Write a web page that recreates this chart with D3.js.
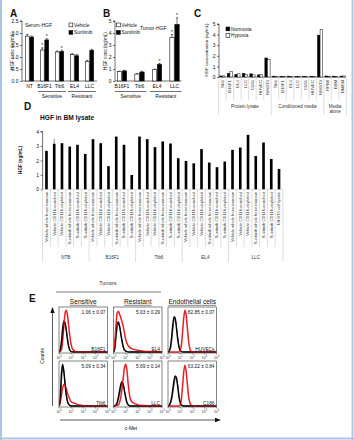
<!DOCTYPE html>
<html><head><meta charset="utf-8">
<script src="https://cdn.jsdelivr.net/npm/d3@7"></script>
<style>body{margin:0;background:#fff}svg,svg text{font-family:"Liberation Sans",Arial,Helvetica,sans-serif}svg{display:block}</style>
</head><body><svg id="c" width="354" height="440" font-family="Liberation Sans, Arial, sans-serif"></svg>
<script>
// ---------- DATA ----------
// Panel A (serum HGF, ng/mL)
const aGroups = ["NT","B16F1","Tib6","EL4","LLC"];
const aVehicle = [1.87,1.29,1.21,1.10,0.82];
const aSunitinib = [1.83,1.71,1.23,1.05,1.28];
const aVehErr = [0.07,0.09,0.04,0.04,0.04];
const aSunErr = [0.04,0.05,0.05,0.05,0.04];
const aTicks = [0,0.5,1.0,1.5,2.0,2.5];
// Panel B (tumor HGF, ng/mL)
const bGroups = ["B16F1","Tib6","EL4","LLC"];
const bVehicle = [0.78,0.58,0.94,3.62];
const bSunitinib = [0.84,0.75,1.39,4.72];
const bVehErr = [0.04,0.04,0.05,0.25];
const bSunErr = [0.05,0.06,0.08,0.55];
const bTicks = [0,1,2,3,4,5];
// Panel C (HGF concentration, ng/mL)
const cCells = ["Tib6","B16F1","EL4","LLC","C166","HUVEC","NIH3T3"];
const cMedia = ["RPMI","EBM","DMEM"];
const cGroups = ["Protein lysate","Conditioned media","Media alone"];
const cNormoxia = [0.10,0.35,0.25,0.35,0.30,0.20,1.80, 0.08,0.06,0.08,0.06,0.05,0.05,3.95, 0.10,0.08,0.08];
const cHypoxia  = [0.10,0.50,0.30,0.25,0.20,0.25,1.65, 0.05,0.05,0.06,0.05,0.04,0.06,4.50, 0.06,0.06,0.10];
const cTicks = [0,1,2,3,4,5];
// Panel D (HGF in BM lysate, ng/mL)
const dTumors = ["NTB","B16F1","Tib6","EL4","LLC"];
const dFractions = ["Vehicle whole bone marrow","Vehicle CD11b-enriched","Vehicle CD11b-depleted","Sunitinib whole bone marrow","Sunitinib CD11b-enriched","Sunitinib CD11b-depleted"];
const dControl = "NIH3T3 cell lysate";
const dValues = [2.66,3.15,3.19,2.96,3.08,2.45, 3.47,3.19,1.60,3.65,3.08,0.99, 3.65,3.47,2.92,3.31,3.17,2.15, 1.96,1.80,2.78,1.85,1.53,1.92, 2.73,2.89,3.77,2.31,3.24,2.10, 1.41];
const dTicks = [0,1,2,3,4];
// Panel E (flow cytometry histograms: [log10 c-Met, % of max counts])
const eCells = [["B16F1","EL4","HUVECs"],["Tib6","LLC","C166"]];
const eStats = [["1.06 ± 0.07","5.03 ± 0.29","82.85 ± 0.07"],["5.09 ± 0.34","5.69 ± 0.14","63.22 ± 0.84"]];
const eHeaders = ["Sensitive","Resistant","Endothelial cells"];
const eDecades = [0,1,2,3,4];
const b16Iso = [[0,0],[0.1,5],[0.2,25],[0.3,55],[0.4,72],[0.5,68],[0.6,50],[0.7,28],[0.8,12],[0.9,4],[1.0,1],[1.2,0],[4,0]];
const b16Met = [[0,0],[0.2,5],[0.3,25],[0.4,60],[0.5,90],[0.6,97],[0.7,85],[0.8,60],[0.9,35],[1.0,18],[1.1,8],[1.3,2],[1.6,0],[4,0]];
const el4Iso = [[0,0],[0.1,10],[0.2,40],[0.3,65],[0.4,70],[0.5,60],[0.6,42],[0.7,25],[0.8,12],[0.9,5],[1.1,1],[1.3,0],[4,0]];
const el4Met = [[0,0],[0.1,20],[0.2,60],[0.3,90],[0.4,95],[0.5,88],[0.6,80],[0.7,70],[0.8,60],[0.9,45],[1.0,30],[1.2,15],[1.5,8],[2.0,4],[2.5,2],[3.0,1],[3.5,0],[4,0]];
const huvIso = [[0,0],[0.1,3],[0.2,12],[0.3,35],[0.4,65],[0.5,82],[0.6,78],[0.7,55],[0.8,30],[0.9,12],[1.0,4],[1.2,0],[4,0]];
const huvMet = [[0,0],[0.9,0],[1.0,3],[1.1,15],[1.2,45],[1.3,80],[1.4,97],[1.5,85],[1.6,55],[1.7,25],[1.8,8],[1.9,2],[2.1,0],[4,0]];
const tibIso = [[0,0],[0.1,20],[0.2,75],[0.3,97],[0.4,80],[0.5,50],[0.6,25],[0.7,10],[0.8,4],[1.0,0],[4,0]];
const tibMet = [[0,0],[0.1,8],[0.2,25],[0.3,42],[0.4,50],[0.5,48],[0.6,40],[0.7,30],[0.8,22],[0.9,15],[1.0,10],[1.3,6],[1.6,3],[2.0,1],[2.3,0],[4,0]];
const llcIso = [[0,0],[0.2,2],[0.3,8],[0.4,20],[0.5,35],[0.6,50],[0.7,57],[0.8,50],[0.9,35],[1.0,20],[1.1,8],[1.2,3],[1.4,0],[4,0]];
const llcMet = [[0,0],[0.4,2],[0.5,8],[0.6,20],[0.7,40],[0.8,65],[0.9,88],[1.0,97],[1.1,85],[1.2,55],[1.3,30],[1.4,15],[1.6,8],[2.0,3],[2.5,1],[3,0],[4,0]];
const c166Iso = [[0,0],[0.1,2],[0.2,8],[0.3,20],[0.4,40],[0.5,60],[0.6,70],[0.7,65],[0.8,45],[0.9,22],[1.0,8],[1.1,2],[1.3,0],[4,0]];
const c166Met = [[0,0],[0.9,0],[1.0,3],[1.1,15],[1.2,45],[1.3,80],[1.4,95],[1.5,80],[1.6,50],[1.7,22],[1.8,8],[1.9,2],[2.1,0],[4,0]];
const eIso = [[b16Iso,el4Iso,huvIso],[tibIso,llcIso,c166Iso]];
const eMet = [[b16Met,el4Met,huvMet],[tibMet,llcMet,c166Met]];

// ---------- DRAW ----------
const FF = "Liberation Sans, Arial, sans-serif";
const svg = d3.select("#c");
const FONT = 5;
function txt(g,x,y,s,o={}){
  const t=g.append("text").attr("x",x).attr("y",y).text(s)
    .attr("font-family",FF)
    .attr("font-size",o.size||FONT).attr("fill",o.fill||"#111")
    .attr("text-anchor",o.anchor||"start");
  if(o.bold) t.attr("font-weight","bold");
  if(o.rot!==undefined) t.attr("transform",`rotate(${o.rot},${x},${y})`);
  return t;
}
function yAxis(g,y,x,ticks,fmt){
  const ax=g.append("g").attr("transform",`translate(${x},0)`)
    .call(d3.axisLeft(y).tickValues(ticks).tickSize(2).tickPadding(1.5).tickFormat(fmt));
  ax.attr("font-family",FF);
  ax.selectAll("text").attr("font-size",FONT).attr("fill","#111");
  ax.selectAll("line,path").attr("stroke","#111").attr("stroke-width",0.6);
  ax.select("path").attr("d",`M-2,${y.range()[1]}H0V${y.range()[0]}`);
  return ax;
}

// Panel letters
txt(svg,10,17,"A",{size:10,bold:true});
txt(svg,103,17,"B",{size:10,bold:true});
txt(svg,194,17,"C",{size:10,bold:true});
txt(svg,24,110,"D",{size:10,bold:true});
txt(svg,29,302,"E",{size:10,bold:true});

// ----- A & B grouped bars -----
function grouped(cfg){
  const g=svg.append("g");
  const x=d3.scaleBand().domain(cfg.groups).range(cfg.xr).paddingInner(cfg.pi).paddingOuter(cfg.po);
  const sub=d3.scaleBand().domain(["v","s"]).range([0,x.bandwidth()]);
  const y=d3.scaleLinear().domain(cfg.dom).range([81,21]);
  yAxis(g,y,cfg.xr[0],cfg.ticks,cfg.fmt);
  g.append("line").attr("x1",cfg.xr[0]).attr("x2",cfg.xr[1]).attr("y1",81).attr("y2",81).attr("stroke","#111").attr("stroke-width",0.6);
  cfg.groups.forEach((k,i)=>{
    [["v",cfg.veh[i],cfg.vErr[i],"#fff"],["s",cfg.sun[i],cfg.sErr[i],"#000"]].forEach(([s,v,e,f])=>{
      const bx=x(k)+sub(s), w=sub.bandwidth();
      g.append("line").attr("x1",bx+w/2).attr("x2",bx+w/2).attr("y1",y(v)).attr("y2",y(v+e)).attr("stroke","#111").attr("stroke-width",0.6);
      g.append("line").attr("x1",bx+w/2-1.2).attr("x2",bx+w/2+1.2).attr("y1",y(v+e)).attr("y2",y(v+e)).attr("stroke","#111").attr("stroke-width",0.6);
      g.append("rect").attr("x",bx+0.3).attr("y",y(v)).attr("width",w-0.6).attr("height",y(0)-y(v)).attr("fill",f).attr("stroke","#111").attr("stroke-width",0.6);
    });
    txt(g,x(k)+x.bandwidth()/2,88,k,{anchor:"middle"});
  });
  (cfg.stars||[]).forEach(([k,s,v])=>{
    txt(g,x(k)+sub(s)+sub.bandwidth()/2,y(v)-0.5,"*",{anchor:"middle",size:5});
  });
  cfg.sets.forEach(([a,b,lab])=>{
    const x1=x(a)-2, x2=x(b)+x.bandwidth()+2;
    g.append("line").attr("x1",x1).attr("x2",x2).attr("y1",91.5).attr("y2",91.5).attr("stroke","#111").attr("stroke-width",0.6);
    txt(g,(x1+x2)/2,98,lab,{anchor:"middle"});
  });
  txt(g,cfg.ylx,51,"HGF conc (ng/mL)",{anchor:"middle",rot:-90,size:4.6});
  txt(g,cfg.titleX,cfg.titleY,cfg.title,{size:5});
  [["Vehicle","#fff",0],["Sunitinib","#000",1]].forEach(([l,f,j])=>{
    g.append("rect").attr("x",cfg.lgx).attr("y",cfg.lgy+j*7.5).attr("width",3.8).attr("height",3.8).attr("fill",f).attr("stroke","#111").attr("stroke-width",0.6);
    txt(g,cfg.lgx+5,cfg.lgy+j*7.5+3.8,l,{size:4.8});
  });
}
grouped({groups:aGroups,veh:aVehicle,sun:aSunitinib,vErr:aVehErr,sErr:aSunErr,xr:[22,97],pi:0.4,po:0.2,
  dom:[0,2.5],ticks:aTicks,fmt:d3.format(".1f"),ylx:14,title:"Serum-HGF",titleX:25,titleY:27,lgx:69,lgy:23,
  sets:[["B16F1","Tib6","Sensitive"],["EL4","LLC","Resistant"]],
  stars:[["B16F1","v",1.38],["B16F1","s",1.76],["Tib6","s",1.28]]});
grouped({groups:bGroups,veh:bVehicle,sun:bSunitinib,vErr:bVehErr,sErr:bSunErr,xr:[115,181.5],pi:0.43,po:0.114,
  dom:[0,5],ticks:bTicks,fmt:d3.format("d"),ylx:107,title:"Tumor-HGF",titleX:140,titleY:30,lgx:116.5,lgy:23,
  sets:[["B16F1","Tib6","Sensitive"],["EL4","LLC","Resistant"]],
  stars:[["EL4","s",1.47],["LLC","v",3.87],["LLC","s",5.27]]});

// ----- C -----
(function(){
  const g=svg.append("g");
  const keys=[...cCells.map(c=>"p:"+c),...cCells.map(c=>"c:"+c),...cMedia.map(c=>"m:"+c)];
  const x=d3.scaleBand().domain(keys).range([219,346]).paddingInner(0.3).paddingOuter(0.1);
  const sub=d3.scaleBand().domain(["n","h"]).range([0,x.bandwidth()]);
  const y=d3.scaleLinear().domain([0,5]).range([77,24]);
  yAxis(g,y,219,cTicks,d3.format("d"));
  g.append("line").attr("x1",219).attr("x2",346).attr("y1",77).attr("y2",77).attr("stroke","#111").attr("stroke-width",0.6);
  keys.forEach((k,i)=>{
    [["n",cNormoxia[i],"#000"],["h",cHypoxia[i],"#fff"]].forEach(([s,v,f])=>{
      g.append("rect").attr("x",x(k)+sub(s)).attr("y",y(v)).attr("width",sub.bandwidth()).attr("height",y(0)-y(v)).attr("fill",f).attr("stroke","#111").attr("stroke-width",0.5);
    });
    const cx=x(k)+x.bandwidth()/2;
    txt(g,cx+1.6,80,k.slice(2),{anchor:"end",rot:-90,size:4.3,fill:"#333"});
  });
  const step=x.step(), x0=219+x.paddingOuter()*step-x.paddingInner()*step/2;
  for(let k=0;k<=17;k++){
    const xx=x0+k*step, big=(k===0||k===7||k===14||k===17);
    g.append("line").attr("x1",xx).attr("x2",xx).attr("y1",78).attr("y2",big?115:100).attr("stroke","#bbb").attr("stroke-width",0.5);
  }
  txt(g,x0+3.5*step,108,cGroups[0],{anchor:"middle",size:4.6,fill:"#333"});
  txt(g,x0+10.5*step,108,cGroups[1],{anchor:"middle",size:4.6,fill:"#333"});
  txt(g,x0+15.5*step,108,"Media",{anchor:"middle",size:4.6,fill:"#333"});
  txt(g,x0+15.5*step,113,"alone",{anchor:"middle",size:4.6,fill:"#333"});
  txt(g,208,50,"HGF concentration (ng/mL)",{anchor:"middle",rot:-90,size:4.4});
  [["Normoxia","#000",0],["Hypoxia","#fff",1]].forEach(([l,f,j])=>{
    g.append("rect").attr("x",226).attr("y",27+j*6.5).attr("width",3.8).attr("height",3.8).attr("fill",f).attr("stroke","#111").attr("stroke-width",0.6);
    txt(g,231,30.8+j*6.5,l,{size:4.8});
  });
})();

// ----- D -----
(function(){
  const g=svg.append("g");
  txt(g,40,120,"HGF in BM lysate",{size:6.6,bold:true});
  const labels=[];
  dTumors.forEach(t=>dFractions.forEach(f=>labels.push(t+"|"+f)));
  labels.push("ctl|"+dControl);
  const x=d3.scaleBand().domain(labels).range([42.6,282.9]).paddingInner(0.66).paddingOuter(0.33);
  const y=d3.scaleLinear().domain([0,4]).range([189.3,131.5]);
  yAxis(g,y,42.6,dTicks,d3.format("d"));
  g.append("line").attr("x1",42.6).attr("x2",282.9).attr("y1",189.3).attr("y2",189.3).attr("stroke","#bbb").attr("stroke-width",0.5);
  labels.forEach((k,i)=>{
    g.append("rect").attr("x",x(k)).attr("y",y(dValues[i])).attr("width",x.bandwidth()).attr("height",y(0)-y(dValues[i])).attr("fill","#000");
    const cx=x(k)+x.bandwidth()/2;
    txt(g,cx+1.4,192,k.split("|")[1],{anchor:"end",rot:-90,size:4.1,fill:"#333"});
  });
  const k1=labels[1];
  g.append("line").attr("x1",x(k1)+x.bandwidth()/2).attr("x2",x(k1)+x.bandwidth()/2).attr("y1",y(dValues[1])).attr("y2",y(dValues[1]+0.35)).attr("stroke","#111").attr("stroke-width",0.5);
  const step=x.step(), x0=42.6;
  for(let k=0;k<=31;k++){
    const xx=x0+k*step, big=(k%6===0&&k<=24)||k===31;
    g.append("line").attr("x1",xx).attr("x2",xx).attr("y1",189.3).attr("y2",big?262:247).attr("stroke","#bbb").attr("stroke-width",0.5);
  }
  dTumors.forEach((t,i)=>{
    const w=i===4?7:6;
    txt(g,x0+(i*6+w/2)*step,259,t,{anchor:"middle",size:4.6,fill:"#333"});
  });
  txt(g,22,160,"HGF (ng/mL)",{anchor:"middle",rot:-90,size:4.6,bold:true});
})();

// ----- E -----
(function(){
  const g=svg.append("g");
  const boxX=[59,113.5,168], boxW=48.5, rowY=[307,361], boxH=46;
  txt(g,108,285,"Tumors",{anchor:"middle",size:5.2,fill:"#333"});
  g.append("line").attr("x1",56).attr("x2",161).attr("y1",292).attr("y2",292).attr("stroke","#aaa").attr("stroke-width",1.5);
  eHeaders.forEach((h,j)=>{
    const t=txt(g,boxX[j]+boxW/2,304,h,{anchor:"middle",size:6.6});
    const w=t.node().getComputedTextLength();
    g.append("line").attr("x1",boxX[j]+boxW/2-w/2).attr("x2",boxX[j]+boxW/2+w/2).attr("y1",305.3).attr("y2",305.3).attr("stroke","#111").attr("stroke-width",0.5);
  });
  const line=d3.line().curve(d3.curveMonotoneX);
  rowY.forEach((ry,r)=>{
    boxX.forEach((bx,c)=>{
      const x=d3.scaleLinear().domain([0,4]).range([bx,bx+boxW]);
      const y=d3.scaleLinear().domain([0,100]).range([ry+boxH-1,ry+2]);
      const clipId=`clip${r}${c}`;
      g.append("clipPath").attr("id",clipId).append("rect").attr("x",bx).attr("y",ry).attr("width",boxW).attr("height",boxH);
      const cg=g.append("g").attr("clip-path",`url(#${clipId})`);
      line.x(d=>x(d[0])).y(d=>y(d[1]));
      cg.append("path").attr("d",line(eIso[r][c])).attr("fill","none").attr("stroke","#000").attr("stroke-width",1.4);
      cg.append("path").attr("d",line(eMet[r][c])).attr("fill","none").attr("stroke","#e8141b").attr("stroke-width",1.5).attr("opacity",0.95);
      cg.append("path").attr("d",line(eIso[r][c].map(d=>[d[0]+0.04,d[1]*0.92]))).attr("fill","none").attr("stroke","#000").attr("stroke-width",0.6);
      g.append("rect").attr("x",bx).attr("y",ry).attr("width",boxW).attr("height",boxH).attr("fill","none").attr("stroke","#333").attr("stroke-width",0.6);
      txt(g,bx+boxW-2,ry+6.5,eStats[r][c],{anchor:"end",size:4.8});
      txt(g,bx+boxW-2,ry+boxH-2.5,eCells[r][c],{anchor:"end",size:4.8});
      eDecades.forEach(dv=>{
        g.append("line").attr("x1",x(dv)).attr("x2",x(dv)).attr("y1",ry+boxH).attr("y2",ry+boxH+1.5).attr("stroke","#333").attr("stroke-width",0.5);
        const t=g.append("text").attr("x",x(dv)).attr("y",ry+boxH+5.5).attr("font-family",FF).attr("font-size",3.4).attr("text-anchor","middle").attr("fill","#333");
        t.append("tspan").text("10");
        t.append("tspan").attr("dy",-1.3).attr("font-size",2.6).text(dv);
      });
    });
  });
  g.append("line").attr("x1",52.5).attr("x2",52.5).attr("y1",406).attr("y2",312).attr("stroke","#111").attr("stroke-width",0.7);
  g.append("path").attr("d","M52.5,307L50.3,313L54.7,313Z").attr("fill","#111");
  txt(g,44,356,"Counts",{anchor:"middle",rot:-90,size:5});
  g.append("line").attr("x1",60).attr("x2",216).attr("y1",420).attr("y2",420).attr("stroke","#111").attr("stroke-width",0.7);
  g.append("path").attr("d","M221,420L215,417.8L215,422.2Z").attr("fill","#111");
  txt(g,131,430,"c-Met",{anchor:"middle",size:5});
})();

// frame
svg.append("line").attr("x1",1).attr("x2",1).attr("y1",0).attr("y2",440).attr("stroke","#a9c6e6").attr("stroke-width",2);
svg.append("line").attr("x1",352.5).attr("x2",352.5).attr("y1",0).attr("y2",440).attr("stroke","#a9c6e6").attr("stroke-width",2);
svg.append("line").attr("x1",0).attr("x2",354).attr("y1",438.5).attr("y2",438.5).attr("stroke","#a9c6e6").attr("stroke-width",2);
</script></body></html>
